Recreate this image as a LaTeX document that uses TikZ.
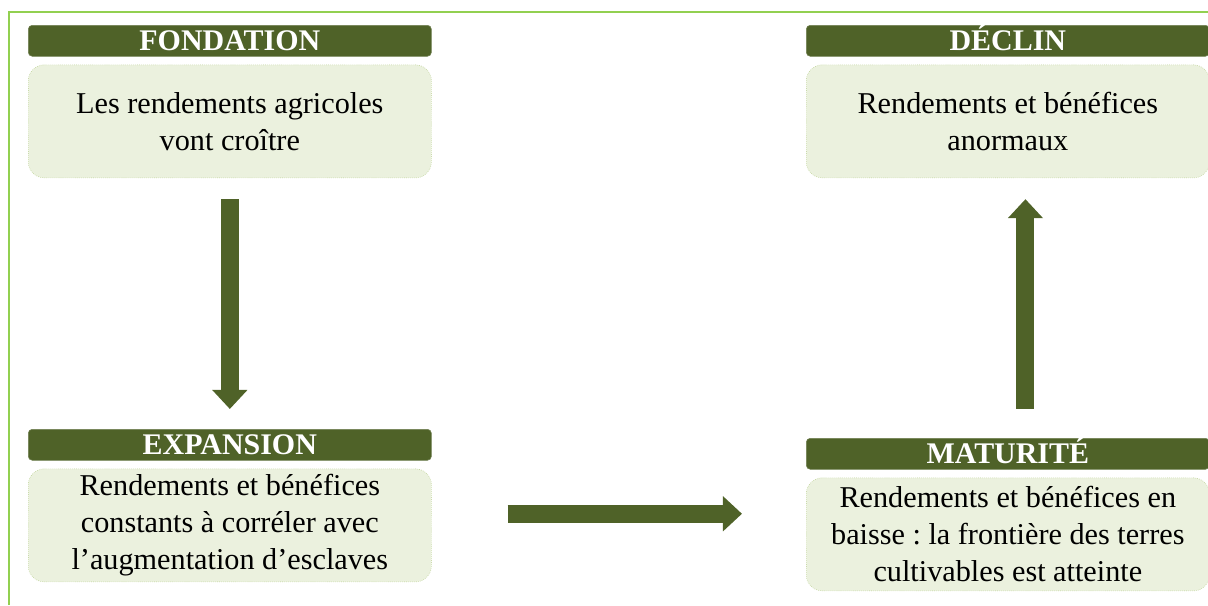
\documentclass[tikz,border=0pt]{standalone}
\usepackage{fontspec}
\setmainfont{Liberation Serif}
\usepackage{xcolor}
\usetikzlibrary{arrows.meta, positioning, calc}
\definecolor{darkolive}{HTML}{4F6228}
\definecolor{paleolive}{HTML}{EBF1DE}
\definecolor{lineolive}{HTML}{B5CC88}
\definecolor{framegreen}{HTML}{92D050}
\frenchspacing
\tikzset{
  phase/.style={fill=darkolive, draw=darkolive!80, rounded corners=0.1cm, minimum width=10.075cm,
    minimum height=0.775cm, inner sep=0pt, text height=0.5cm, text depth=0cm, text=white,
    font=\fontsize{21.3}{24}\selectfont\bfseries},
  phasebody/.style={fill=paleolive, draw=lineolive, densely dotted, rounded corners=0.4cm,
    minimum width=10.075cm, minimum height=2.825cm, inner sep=0pt, align=center,
    font=\fontsize{21.5}{26.4}\selectfont},
  bigarrow/.style={draw=darkolive, line width=0.45cm, -{Triangle[width=0.85cm,length=0.475cm]}}
}
\begin{document}
\begin{tikzpicture}[x=0.025cm, y=-0.025cm]
\useasboundingbox (0,0) rectangle (1208,605);
% frame
\draw[framegreen, line width=0.05cm] (9,605) |- (1208,12);
% left column
\node[phase, anchor=north west] (fondhead) at (28,25) {FONDATION};
\node[phasebody, below=0.2cm of fondhead] (fondbody) {Les rendements agricoles\\vont croître};
\node[phase, anchor=north west] (exphead) at (28,429) {EXPANSION};
\node[phasebody, below=0.2cm of exphead] (expbody) {Rendements et bénéfices\\constants à corréler avec\\l’augmentation d’esclaves};
% right column
\node[phase, anchor=north west] (declhead) at (806,25) {DÉCLIN};
\node[phasebody, below=0.2cm of declhead] (declbody) {Rendements et bénéfices\\anormaux};
\node[phase, anchor=north west] (mathead) at (806,438) {MATURITÉ};
\node[phasebody, below=0.2cm of mathead] (matbody) {Rendements et bénéfices en\\baisse : la frontière des terres\\cultivables est atteinte};
% arrows
\draw[bigarrow, shorten <=0.525cm, shorten >=0.5cm] (fondbody.south) -- (exphead.north);
\draw[bigarrow, shorten <=1.9cm, shorten >=1.6cm] ([yshift=0.29cm]expbody.east) -- ([yshift=0.29cm]expbody.east -| matbody.west);
\draw[bigarrow, shorten <=0.725cm, shorten >=0.525cm] ([xshift=0.44cm]mathead.north) -- ([xshift=0.44cm]declbody.south);
\end{tikzpicture}
\end{document}
